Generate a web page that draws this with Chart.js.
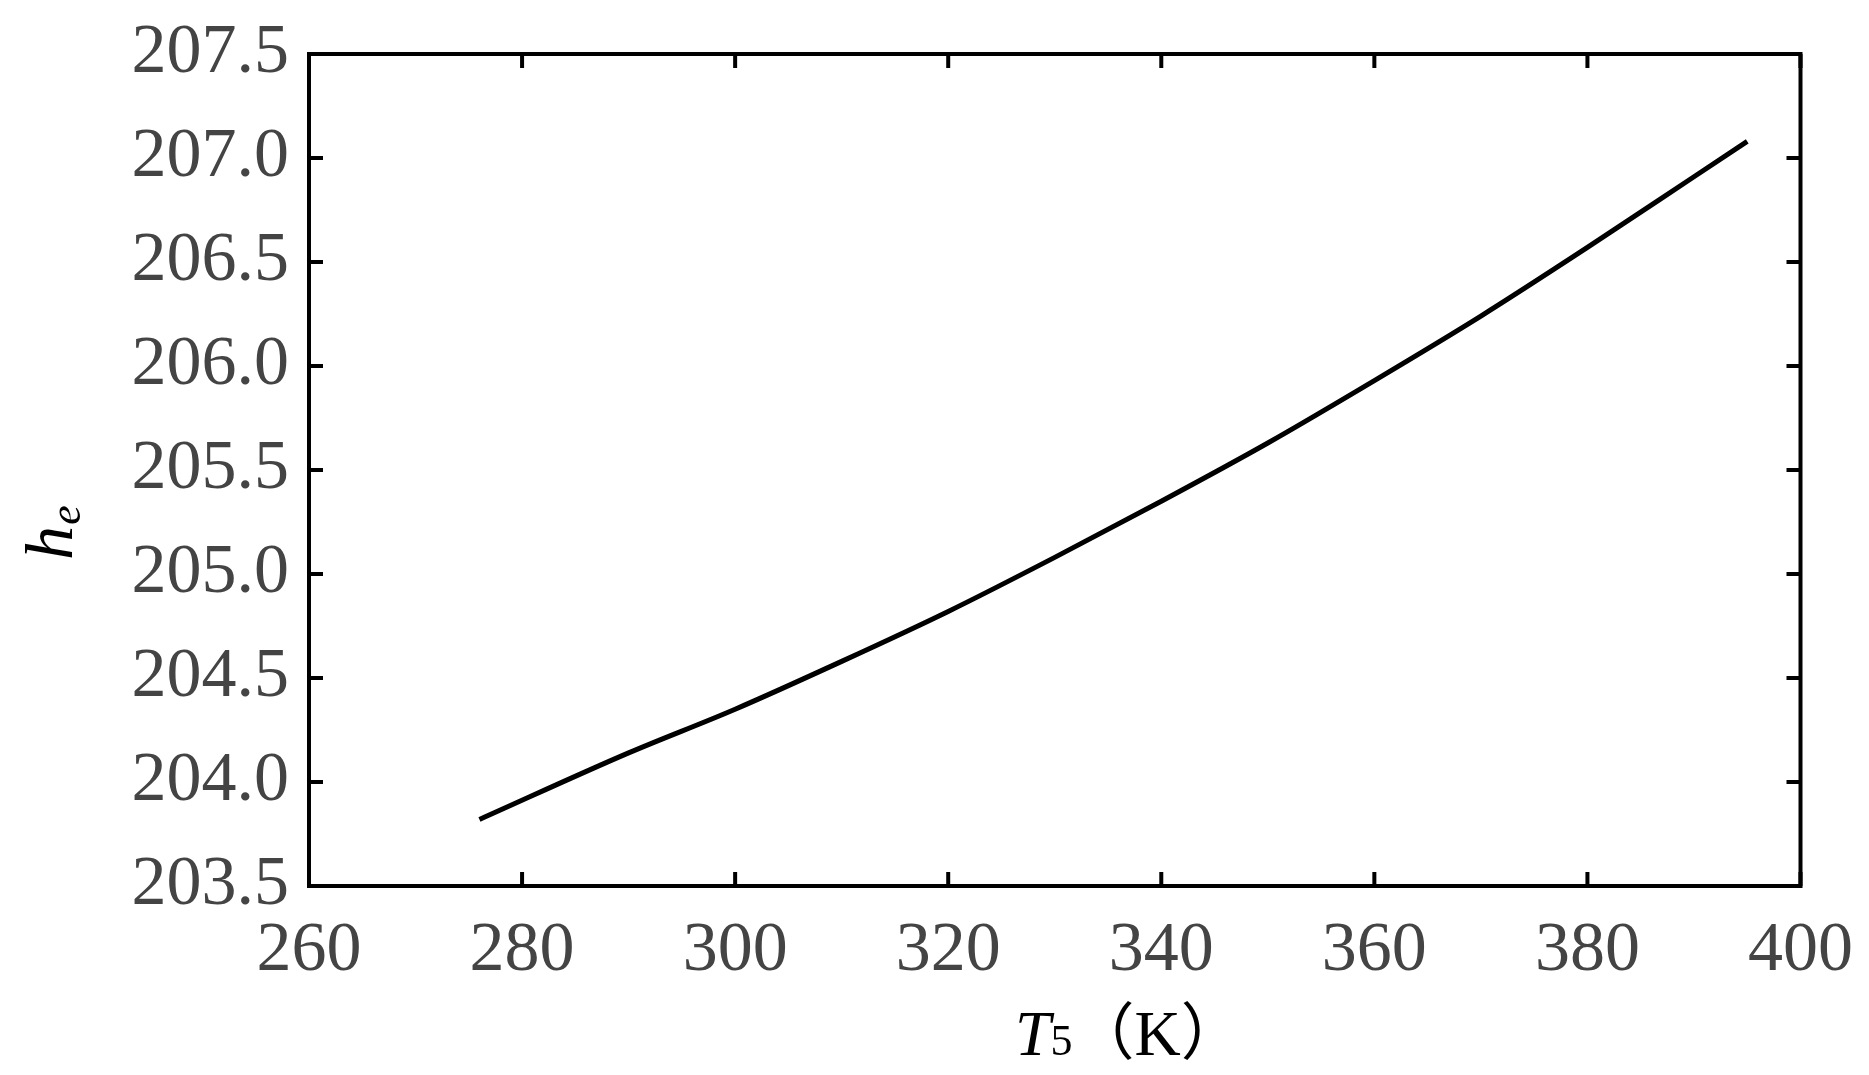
<!DOCTYPE html>
<html>
<head>
<script src="https://cdn.jsdelivr.net/npm/chart.js@4/dist/chart.umd.min.js"></script>
<style>
  html, body { margin: 0; padding: 0; background: #fff; }
  #wrap { width: 1869px; height: 1075px; }
</style>
</head>
<body>
<div id="wrap"><canvas id="chart" width="1869" height="1075"></canvas></div>
<script>
const temps = [276, 290, 300, 310, 320, 330, 340, 350, 360, 370, 380, 390, 395];
const enthalpy = [203.82, 204.14, 204.35, 204.58, 204.82, 205.08, 205.35, 205.63, 205.93, 206.24, 206.57, 206.91, 207.08];
const xTicks = [260, 280, 300, 320, 340, 360, 380, 400];
const yTicks = [203.5, 204.0, 204.5, 205.0, 205.5, 206.0, 206.5, 207.0, 207.5];

const serif = "'Liberation Serif', 'DejaVu Serif', serif";

const frame = {
  id: "frame",
  afterDraw(chart) {
    const { ctx, chartArea: a, scales } = chart;
    ctx.save();
    ctx.strokeStyle = "#000";
    ctx.lineWidth = 4;
    ctx.strokeRect(a.left, a.top, a.right - a.left, a.bottom - a.top);
    const len = 14;
    ctx.beginPath();
    xTicks.forEach((v) => {
      const px = scales.x.getPixelForValue(v);
      ctx.moveTo(px, a.bottom); ctx.lineTo(px, a.bottom - len);
      ctx.moveTo(px, a.top); ctx.lineTo(px, a.top + len);
    });
    yTicks.forEach((v) => {
      const py = scales.y.getPixelForValue(v);
      ctx.moveTo(a.left, py); ctx.lineTo(a.left + len, py);
      ctx.moveTo(a.right, py); ctx.lineTo(a.right - len, py);
    });
    ctx.stroke();

    // axis titles
    ctx.fillStyle = "#000";
    ctx.textBaseline = "alphabetic";
    ctx.font = "italic 64px " + serif;
    const tx = 1015, ty = 1055;
    ctx.textAlign = "left";
    ctx.fillText("T", tx, ty);
    let w = ctx.measureText("T").width;
    ctx.font = "44px " + serif;
    ctx.fillText("5", tx + w, ty);
    w += ctx.measureText("5").width;
    ctx.font = "62px 'Noto Sans CJK SC', " + serif;
    ctx.fillText("（", tx + w, ty);
    w += ctx.measureText("（").width;
    ctx.font = "64px " + serif;
    ctx.fillText("K", tx + w, ty);
    w += ctx.measureText("K").width;
    ctx.font = "62px 'Noto Sans CJK SC', " + serif;
    ctx.fillText("）", tx + w, ty);

    ctx.translate(72, 535);
    ctx.rotate(-Math.PI / 2);
    ctx.textAlign = "center";
    ctx.font = "italic 68px " + serif;
    ctx.fillText("h", -8, 0);
    ctx.font = "italic 44px " + serif;
    ctx.fillText("e", 20, 8);
    ctx.restore();
  },
};

new Chart(document.getElementById("chart"), {
  type: "line",
  data: {
    datasets: [{
      data: temps.map((t, i) => ({ x: t, y: enthalpy[i] })),
      borderColor: "#000",
      borderWidth: 5,
      pointRadius: 0,
      cubicInterpolationMode: "monotone",
      fill: false,
    }],
  },
  options: {
    responsive: false,
    animation: false,
    layout: { padding: { top: 46, right: 64, left: 0, bottom: 0 } },
    plugins: { legend: { display: false }, tooltip: { enabled: false } },
    scales: {
      x: {
        type: "linear", min: 260, max: 400,
        afterBuildTicks: (s) => { s.ticks = xTicks.map((v) => ({ value: v })); },
        afterFit: (s) => { s.height = 189; },
        grid: { display: false },
        border: { display: false },
        ticks: { color: "#444", padding: 16, font: { family: serif, size: 70 }, maxRotation: 0 },
      },
      y: {
        type: "linear", min: 203.5, max: 207.5,
        afterBuildTicks: (s) => { s.ticks = yTicks.map((v) => ({ value: v })); },
        afterFit: (s) => { s.width = 309; },
        grid: { display: false },
        border: { display: false },
        ticks: {
          color: "#444", padding: 12, font: { family: serif, size: 70 },
          callback: (v) => v.toFixed(1),
        },
      },
    },
  },
  plugins: [frame],
});
</script>
</body>
</html>
